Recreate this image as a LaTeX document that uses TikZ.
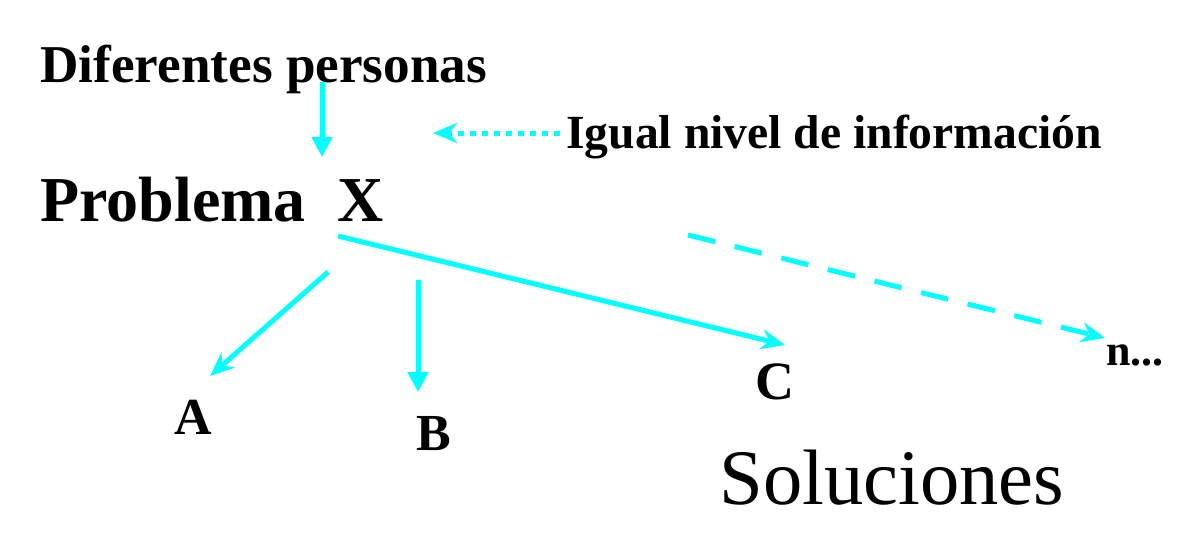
\documentclass[tikz,border=0pt]{standalone}
\usepackage{fontspec}
\setmainfont{Liberation Serif}
\usetikzlibrary{arrows.meta}
\definecolor{cyanline}{RGB}{0,255,255}
\tikzset{
  flecha/.style={cyanline, line width=2.5pt, -{Stealth[length=12pt,width=10pt]}},
  flechav/.style={cyanline, line width=2.5pt, -{Triangle[length=10pt,width=10pt]}},
  rotulo/.style={inner sep=0pt, anchor=base west, font=\bfseries}
}
\begin{document}
\begin{tikzpicture}[x=0.5pt, y=-0.5pt]
\useasboundingbox (0,0) rectangle (1197,558);

\node[rotulo, font=\fontsize{26.6}{30}\selectfont\bfseries] (nPersonas) at (40,82) {Diferentes personas};
\node[rotulo, font=\fontsize{23.8}{28}\selectfont\bfseries] (nIgual) at (566,148) {Igual nivel de información};
\node[rotulo, font=\fontsize{32}{36}\selectfont\bfseries] (nProblema) at (40,221) {Problema\ \ X};
\node[rotulo, font=\fontsize{26}{30}\selectfont\bfseries] (nA) at (174,434) {A};
\node[rotulo, font=\fontsize{26}{30}\selectfont\bfseries] (nB) at (416,450) {B};
\node[rotulo, font=\fontsize{27}{31}\selectfont\bfseries] (nC) at (755,399) {C};
\node[rotulo, font=\fontsize{22}{26}\selectfont\bfseries] (nN) at (1106,365) {n...};
\node[rotulo, font=\fontsize{39.3}{45}\selectfont] (nSoluciones) at (719,504) {Soluciones};

\coordinate (cP1) at (322,82);
\coordinate (cP2) at (322,157);
\coordinate (cI1) at (560,133);
\coordinate (cI2) at (433,133);
\coordinate (cA1) at (328,272);
\coordinate (cA2) at (210,376);
\coordinate (cB1) at (418,280);
\coordinate (cB2) at (418,392);
\coordinate (cC1) at (338,236);
\coordinate (cC2) at (785,345);
\coordinate (cN1) at (688,235);
\coordinate (cN2) at (1105,338);

\draw[flechav] (cP1) -- (cP2);
\draw[flecha, dash pattern=on 3pt off 3pt] (cI1) -- (cI2);
\draw[flecha] (cA1) -- (cA2);
\draw[flechav] (cB1) -- (cB2);
\draw[flecha] (cC1) -- (cC2);
\draw[flecha, dash pattern=on 14pt off 10pt] (cN1) -- (cN2);

\end{tikzpicture}
\end{document}
